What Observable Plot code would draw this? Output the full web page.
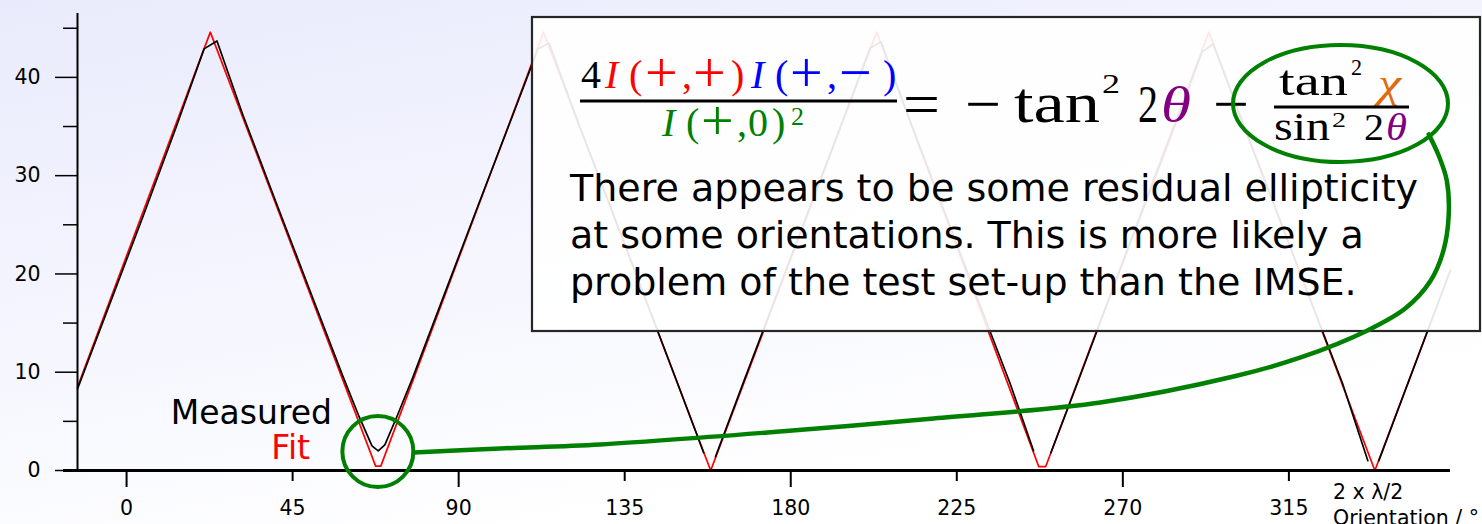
<!DOCTYPE html>
<html>
<head>
<meta charset="utf-8">
<script src="https://cdn.jsdelivr.net/npm/d3@7"></script>
<script src="https://cdn.jsdelivr.net/npm/@observablehq/plot@0.6"></script>
<style>
  html, body { margin: 0; padding: 0; }
  body {
    width: 1482px; height: 524px; overflow: hidden;
    background: linear-gradient(170deg, #e9ebfc 0%, #f5f6fe 45%, #ffffff 80%);
  }
  #chart svg { display: block; }
</style>
</head>
<body>
<div id="chart"></div>
<script>
// Axis domains and ticks (orientation in degrees, ellipticity in degrees)
const xDomain = [-13.3, 358.8];
const yDomain = [0, 46.5];
const xMajorTicks = [0, 90, 180, 270];
const xMinorTicks = [45, 135, 225, 315];
const yMajorTicks = [0, 10, 20, 30, 40];
const yMinorTicks = [5, 15, 25, 35, 45];

// Fitted curve (red)
const fitX = [-13.3, 22.7, 67.5, 68.9, 113.0, 158.3, 203.3, 247.2, 249.1, 293.3, 338.3, 358.8];
const fitY = [8.5, 44.6, 0.45, 0.45, 44.6, 0.0, 44.6, 0.4, 0.4, 44.6, 0.0, 20.4];

// Measured values (black); null marks orientations without a usable value
const measuredX = [-13.3, -4.5, 4.5, 13.5, 21.0, 24.5, 31.5, 40.5, 49.5, 58.5, 63.0, 66.5, 68.2, 70.0, 73.5, 77.5, 86.5, 95.5, 104.5, 111.5, 114.5, 122.5, 131.5, 140.5, 149.5, 156.4,
  158.0,
  159.6, 167.5, 176.5, 185.5, 194.5, 201.5, 204.5, 212.5, 221.5, 230.5, 239.5, 245.8,
  248.2,
  250.5, 257.5, 266.5, 275.5, 284.5, 291.5, 294.5, 302.5, 311.5, 320.5, 329.5, 336.4,
  338.0,
  339.4, 358.8];
const measuredY = [8.3, 17.0, 25.9, 35.0, 42.9, 43.7, 36.2, 27.3, 18.5, 9.7, 5.5, 2.5, 2.0, 2.6, 5.7, 9.4, 18.3, 27.2, 36.0, 42.9, 43.5, 35.3, 26.5, 17.6, 8.7, 1.8,
  null,
  1.4, 9.3, 18.2, 27.1, 36.0, 43.0, 43.6, 35.4, 26.5, 17.6, 8.8, 2.0,
  null,
  1.8, 8.7, 17.7, 26.6, 35.5, 42.6, 43.4, 35.3, 26.5, 17.7, 8.9, 1.0,
  null,
  1.0, 20.4];

// Highlighted minimum and the connector leading to the formula
const markerX = [68.1];
const markerY = [1.93];
const connectorX = [77.8, 101.3, 128.4, 173.7, 218.7, 263.9, 300.0, 318.2, 336.3, 346.6, 353.4, 356.9, 358.3, 357.8, 355.6, 352.9];
const connectorY = [1.83, 2.24, 2.65, 3.87, 5.29, 6.92, 9.56, 11.5, 14.25, 16.5, 19.3, 22.4, 25.9, 29.5, 32.05, 34.2];

// Text content
const legendMeasured = "Measured";
const legendFit = "Fit";
const xLabelLines = ["2 x \u03bb/2", "Orientation / \u00b0"];
const noteLines = [
  "There appears to be some residual ellipticity",
  "at some orientations. This is more likely a",
  "problem of the test set-up than the IMSE."
];

const fit = fitX.map((x, i) => ({x, y: fitY[i]}));
const measured = measuredX.map((x, i) => ({x, y: measuredY[i]}));
const marker = markerX.map((x, i) => ({x, y: markerY[i]}));
const connector = connectorX.map((x, i) => ({x, y: connectorY[i]}));

const GREEN = "#008000";
const RED = "#ff0000";
const BLUE = "#0000ff";
const PURPLE = "#800080";
const ORANGE = "#e06a0c";
const SERIF = "'Liberation Serif', 'DejaVu Serif', serif";
const SANS = "'DejaVu Sans', sans-serif";

function put(g, str, x, y, size, opts = {}) {
  const t = g.append("text")
    .attr("x", x).attr("y", y)
    .attr("font-size", size)
    .attr("font-family", opts.family || SERIF)
    .attr("fill", opts.color || "black")
    .attr("text-anchor", opts.anchor || "start")
    .text(str);
  if (opts.italic) t.attr("font-style", "italic");
  if (opts.len) t.attr("textLength", opts.len).attr("lengthAdjust", "spacingAndGlyphs");
  return t;
}

// glyph-by-glyph typesetting: [text, x, baseline, size, colour, italic]
function typeset(g, glyphs) {
  for (const [s, x, y, size, color, italic] of glyphs) {
    put(g, s, x, y, size, {color, italic});
  }
}

// Legend, axis caption and the note box with its formula
function annotations() {
  const g = d3.create("svg:g");

  put(g, legendMeasured, 332, 424, 33, {family: SANS, anchor: "end"});
  put(g, legendFit, 310, 459, 33, {family: SANS, anchor: "end", color: "red"});

  put(g, xLabelLines[0], 1333, 499, 20.5, {family: SANS});
  put(g, xLabelLines[1], 1333, 525, 20.5, {family: SANS});

  const box = g.append("g");
  box.append("rect")
    .attr("x", 532).attr("y", 17).attr("width", 948).attr("height", 314)
    .attr("fill", "white").attr("fill-opacity", 0.9)
    .attr("stroke", "#262626").attr("stroke-width", 2.2);

  // left fraction: 4 I(+,+) I(+,-) / I(+,0)^2
  typeset(box, [
    ["4", 581, 88, 40, "black"],
    ["I", 605, 88, 40, RED, true],
    ["(", 629, 88, 40, RED],
    ["+", 645, 92, 58, RED],
    [",", 682, 88, 40, RED],
    ["+", 693, 92, 58, RED],
    [")", 731, 88, 40, RED],
    ["I", 751, 88, 40, BLUE, true],
    ["(", 775, 88, 40, BLUE],
    ["+", 790, 92, 58, BLUE],
    [",", 827, 88, 40, BLUE],
    ["\u2212", 839, 92, 58, BLUE],
    [")", 883, 88, 40, BLUE],
    ["I", 662, 136, 40, GREEN, true],
    ["(", 686, 136, 40, GREEN],
    ["+", 701, 140, 58, GREEN],
    [",", 737, 136, 40, GREEN],
    ["0", 748, 136, 40, GREEN],
    [")", 772, 136, 40, GREEN],
    ["2", 791, 125, 26, GREEN]
  ]);
  box.append("rect").attr("x", 580).attr("y", 99.5).attr("width", 317).attr("height", 3).attr("fill", "black");

  // right-hand side: = -tan^2 2θ - tan^2 χ / sin^2 2θ
  put(box, "=", 903, 125, 62, {len: 37});
  put(box, "\u2212", 965, 124, 60, {len: 36});
  put(box, "tan", 1014, 122, 58, {len: 86});
  put(box, "2", 1102, 93, 27, {len: 18});
  put(box, "2", 1138, 122, 52, {len: 20});
  put(box, "\u03b8", 1161, 122, 50, {italic: true, color: PURPLE, len: 30});
  put(box, "\u2212", 1213, 124, 60, {len: 36});

  put(box, "tan", 1279, 95, 42, {len: 69});
  put(box, "2", 1351, 75, 24, {len: 11});
  put(box, "\u03c7", 1378, 97, 42, {italic: true, color: ORANGE, len: 23});
  box.append("rect").attr("x", 1274).attr("y", 105.5).attr("width", 135).attr("height", 3).attr("fill", "black");
  put(box, "sin", 1274, 140, 40, {len: 56});
  put(box, "2", 1332, 127, 21, {len: 14});
  put(box, "2", 1364, 140, 37, {len: 20});
  put(box, "\u03b8", 1386, 140, 37, {italic: true, color: PURPLE, len: 21});

  noteLines.forEach((line, i) => put(box, line, 570, 201 + i * 47, 38, {family: SANS}));

  g.append("ellipse")
    .attr("cx", 1340.5).attr("cy", 103.5).attr("rx", 107.5).attr("ry", 58.5)
    .attr("fill", "none").attr("stroke", GREEN).attr("stroke-width", 4);

  return g.node();
}

const chart = Plot.plot({
  width: 1482,
  height: 524,
  marginLeft: 77,
  marginRight: 32,
  marginTop: 13,
  marginBottom: 54,
  x: {domain: xDomain},
  y: {domain: yDomain},
  style: {background: "none", fontFamily: SANS, fontSize: "20.5px", color: "black", overflow: "visible"},
  marks: [
    Plot.line(fit, {x: "x", y: "y", stroke: "red", strokeWidth: 1.7}),
    Plot.line(measured, {x: "x", y: "y", stroke: "black", strokeWidth: 1.7}),
    Plot.ruleY([0], {insetLeft: -14, stroke: "black", strokeWidth: 3}),
    Plot.ruleX([xDomain[0]], {stroke: "black", strokeWidth: 2}),
    Plot.axisX(xMajorTicks, {anchor: "bottom", tickSize: 17, tickPadding: 13, strokeWidth: 2, fontSize: 20.5, label: null}),
    Plot.axisX(xMinorTicks, {anchor: "bottom", tickSize: 11, tickPadding: 19, strokeWidth: 2, fontSize: 20.5, label: null}),
    Plot.axisY(yMajorTicks, {anchor: "left", tickSize: 22, tickPadding: 15, strokeWidth: 1.5, fontSize: 20.5, label: null}),
    Plot.axisY(yMinorTicks, {anchor: "left", tickSize: 14, tickFormat: () => "", strokeWidth: 1.5, label: null}),
    annotations,
    Plot.line(connector, {x: "x", y: "y", curve: "catmull-rom", stroke: GREEN, strokeWidth: 4.5}),
    Plot.dot(marker, {x: "x", y: "y", r: 35.5, stroke: GREEN, strokeWidth: 4, fill: "none"})
  ]
});

document.getElementById("chart").append(chart);
</script>
</body>
</html>
